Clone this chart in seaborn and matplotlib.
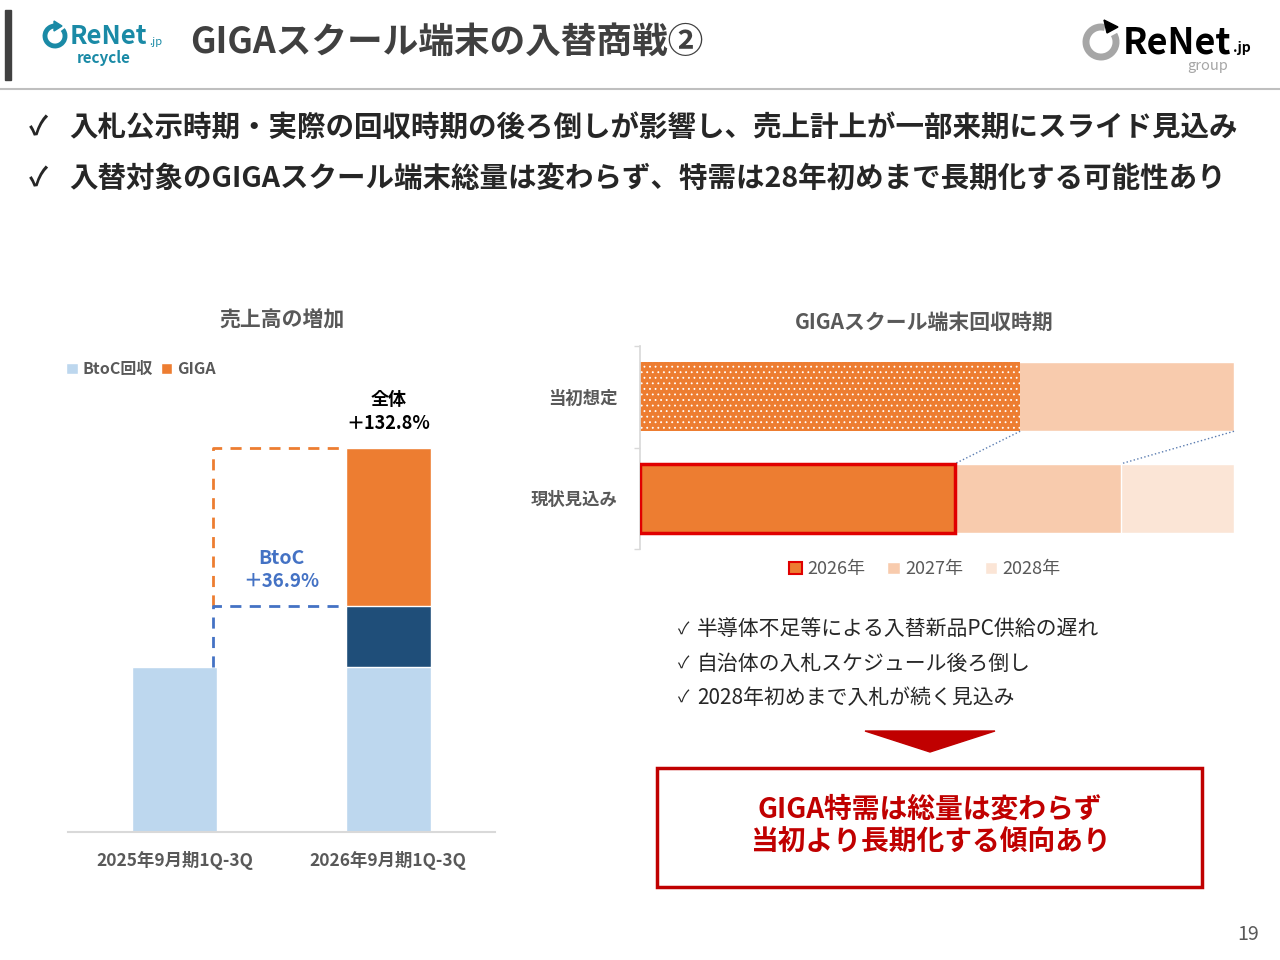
import numpy as np
import pandas as pd
import matplotlib
matplotlib.use('Agg')
import matplotlib.pyplot as plt
import seaborn as sns
from matplotlib.patches import Patch, Rectangle, Polygon, Arc

# data: sales growth (left chart)
periods = ['2025年9月期1Q-3Q', '2026年9月期1Q-3Q']
btoc_base = [100, 100]
btoc_growth = [0, 36.9]
giga = [0, 95.9]

# data: GIGA device collection timing (right chart)
scenarios = ['当初想定', '現状見込み']
years = ['2026年', '2027年', '2028年']
share_2026 = [64, 53]
share_2027 = [36, 28]
share_2028 = [0, 19]

ORANGE = '#ED7D31'
NAVY = '#1F4E79'
LIGHT = '#BDD7EE'
C2027 = '#F8CBAD'
C2028 = '#FBE5D6'
RED = '#E00000'
DARKRED = '#C00000'
GRAY = '#595959'

sns.set_theme(style='white')
plt.rcParams['font.family'] = ['Noto Sans CJK JP', 'DejaVu Sans']
plt.rcParams['hatch.linewidth'] = 0.6

fig = plt.figure(figsize=(12.8, 9.6), dpi=100)

# background axes in pixel coordinates for slide decoration
bg = fig.add_axes([0, 0, 1, 1])
bg.set_xlim(0, 1280)
bg.set_ylim(960, 0)
bg.axis('off')

# header
bg.add_patch(Rectangle((5, 10), 6, 70, color='#404040'))
bg.plot([0, 1280], [89, 89], color='#BFBFBF', lw=1.5)
bg.text(190, 42, 'GIGAスクール端末の入替商戦②', fontsize=25.7, fontweight='bold',
        color='#404040', va='center', ha='left')

# left logo
TEAL = '#1A8AA6'
bg.add_patch(Arc((55, 36), 20, 20, theta1=-40, theta2=270, color=TEAL, lw=3.5))
bg.add_patch(Polygon([(54, 21), (54, 31), (62, 26)], color=TEAL))
bg.text(70, 36, 'ReNet', fontsize=18.5, fontweight='bold', color=TEAL, va='center')
bg.text(149, 42, '.jp', fontsize=8, color=TEAL, va='center')
bg.text(104, 58, 'recycle', fontsize=11, fontweight='bold', color=TEAL, va='center', ha='center')

# right logo
bg.add_patch(Arc((1101, 42), 30, 30, theta1=-30, theta2=285, color='#A6A6A6', lw=5))
bg.add_patch(Polygon([(1104, 20), (1107, 33), (1118, 27)], color='black'))
bg.text(1123, 43, 'ReNet', fontsize=26, fontweight='bold', color='black', va='center')
bg.text(1233, 48, '.jp', fontsize=10, fontweight='bold', color='black', va='center')
bg.text(1208, 66, 'group', fontsize=10.5, color='#A6A6A6', va='center', ha='center')

# bullets
bullets = ['入札公示時期・実際の回収時期の後ろ倒しが影響し、売上計上が一部来期にスライド見込み',
           '入替対象のGIGAスクール端末総量は変わらず、特需は28年初めまで長期化する可能性あり']
for i, b in enumerate(bullets):
    y = 128 + 51 * i
    bg.text(29, y, '✓', fontsize=19, fontweight='bold', color='#262626', va='center')
    bg.text(69, y, b, fontsize=20.5, fontweight='bold', color='#262626', va='center')

# chart titles
bg.text(282, 320, '売上高の増加', fontsize=15, fontweight='bold', color=GRAY,
        ha='center', va='center')
bg.text(924, 322, 'GIGAスクール端末回収時期', fontsize=15, fontweight='bold', color=GRAY,
        ha='center', va='center')

# ---------- left chart: stacked bars ----------
ax1 = fig.add_axes([68/1280, 128/960, 427/1280, 472/960])
btoc_total = np.array(btoc_base) + np.array(btoc_growth)
total = btoc_total + np.array(giga)
df1 = pd.DataFrame({'period': periods, 'base': btoc_base,
                    'btoc_total': btoc_total, 'total': total})
sns.barplot(data=df1, x='period', y='total', color=ORANGE, width=0.4,
            saturation=1, ax=ax1)
sns.barplot(data=df1, x='period', y='btoc_total', color=NAVY, width=0.4,
            saturation=1, ax=ax1)
sns.barplot(data=df1, x='period', y='base', color=LIGHT, width=0.4,
            saturation=1, ax=ax1)
ax1.set_xlim(-0.5, 1.5)
ax1.set_ylim(0, 286)
sns.despine(ax=ax1, left=True)
ax1.spines['bottom'].set_color('#D9D9D9')
ax1.spines['bottom'].set_linewidth(1.5)
ax1.set_yticks([])
ax1.set_xlabel('')
ax1.set_ylabel('')
ax1.tick_params(axis='x', length=0, pad=14)
for lab in ax1.get_xticklabels():
    lab.set_fontsize(12.5)
    lab.set_fontweight('bold')
    lab.set_color(GRAY)

# dashed growth guides
ax1.plot([0.18, 0.18, 0.8], [btoc_total[1], total[1], total[1]], color=ORANGE,
         lw=2, ls=(0, (4, 3)))
ax1.plot([0.18, 0.18, 0.8], [btoc_base[0], btoc_total[1], btoc_total[1]], color='#4472C4',
         lw=2, ls=(0, (4, 3)))
ax1.text(1, total[1] + 29, '全体', fontsize=13, fontweight='bold', color='black',
         ha='center', va='center')
ax1.text(1, total[1] + 15, '＋132.8%', fontsize=13, fontweight='bold', color='black',
         ha='center', va='center')
ax1.text(0.5, btoc_total[1] + 28.6, 'BtoC', fontsize=14, fontweight='bold', color='#4472C4',
         ha='center', va='center')
ax1.text(0.5, btoc_total[1] + 14.6, '＋36.9%', fontsize=13.5, fontweight='bold', color='#4472C4',
         ha='center', va='center')

fig.legend([Patch(fc=LIGHT), Patch(fc=ORANGE)], ['BtoC回収', 'GIGA'],
           loc='center left', bbox_to_anchor=(52/1280, 1 - 369/960), ncol=2,
           frameon=False, handlelength=0.7, handleheight=0.7, handletextpad=0.3,
           columnspacing=0.5, prop={'size': 11.5, 'weight': 'bold'}, labelcolor=GRAY)

# ---------- right chart: horizontal stacked bars ----------
ax2 = fig.add_axes([640/1280, 411/960, 594/1280, 203/960])
c26 = np.array(share_2026)
c27 = c26 + np.array(share_2027)
c28 = c27 + np.array(share_2028)
df2 = pd.DataFrame({'scenario': scenarios, 'c26': c26, 'c27': c27, 'c28': c28})
sns.barplot(data=df2, y='scenario', x='c28', color=C2028, orient='h', width=0.68,
            saturation=1, ax=ax2)
sns.barplot(data=df2, y='scenario', x='c27', color=C2027, orient='h', width=0.68,
            saturation=1, ax=ax2)
sns.barplot(data=df2, y='scenario', x='c26', color=ORANGE, orient='h', width=0.68,
            saturation=1, ax=ax2)
bars = ax2.containers[-1]
bars[0].set_hatch('...')
bars[0].set_edgecolor('white')
bars[0].set_linewidth(0)
bars[1].set_edgecolor(RED)
bars[1].set_linewidth(2.5)
bars[1].set_zorder(5)

ax2.set_xlim(0, 100)
ax2.set_ylim(1.5, -0.5)
sns.despine(ax=ax2, bottom=True)
ax2.spines['left'].set_color('#D9D9D9')
ax2.set_xticks([])
ax2.set_xlabel('')
ax2.set_ylabel('')
ax2.set_yticks([-0.5, 0.5, 1.5], minor=True)
ax2.tick_params(axis='y', which='major', length=0, pad=16)
ax2.tick_params(axis='y', which='minor', left=True, length=4.5, color='#D9D9D9', direction='out')
for lab in ax2.get_yticklabels():
    lab.set_fontsize(12.5)
    lab.set_fontweight('bold')
    lab.set_color(GRAY)

# dotted connectors between the two bars
half = 0.34
ax2.plot([c26[0], c26[1]], [half, 1 - half], ls=':', color='#5B7DB1', lw=1, clip_on=False)
ax2.plot([c28[0], c27[1]], [half, 1 - half], ls=':', color='#5B7DB1', lw=1, clip_on=False)

ax2.legend([Patch(fc=ORANGE, ec=RED, lw=1.5), Patch(fc=C2027), Patch(fc=C2028)], years,
           loc='upper center', bbox_to_anchor=(0.48, 0.025), ncol=3, frameon=False,
           fontsize=13, handlelength=0.7, handleheight=0.7, handletextpad=0.3,
           columnspacing=1.2, labelcolor=GRAY)

# reasons and conclusion
reasons = ['半導体不足等による入替新品PC供給の遅れ',
           '自治体の入札スケジュール後ろ倒し',
           '2028年初めまで入札が続く見込み']
for i, r in enumerate(reasons):
    y = 630 + 34 * i
    bg.text(678, y, '✓', fontsize=12, color='#262626', va='center')
    bg.text(697, y, r, fontsize=15, color='#262626', va='center')

bg.add_patch(Polygon([(865, 731), (995, 731), (930, 752)], color=DARKRED))
bg.add_patch(Rectangle((657, 768), 545, 119, fill=False, ec=DARKRED, lw=2.5))
bg.text(930, 810, 'GIGA特需は総量は変わらず', fontsize=20, fontweight='bold',
        color=DARKRED, ha='center', va='center')
bg.text(930, 843, '当初より長期化する傾向あり', fontsize=20, fontweight='bold',
        color=DARKRED, ha='center', va='center')

bg.text(1248, 935, '19', fontsize=14, color=GRAY, ha='center', va='center')

fig.savefig('out.png', dpi=100)
